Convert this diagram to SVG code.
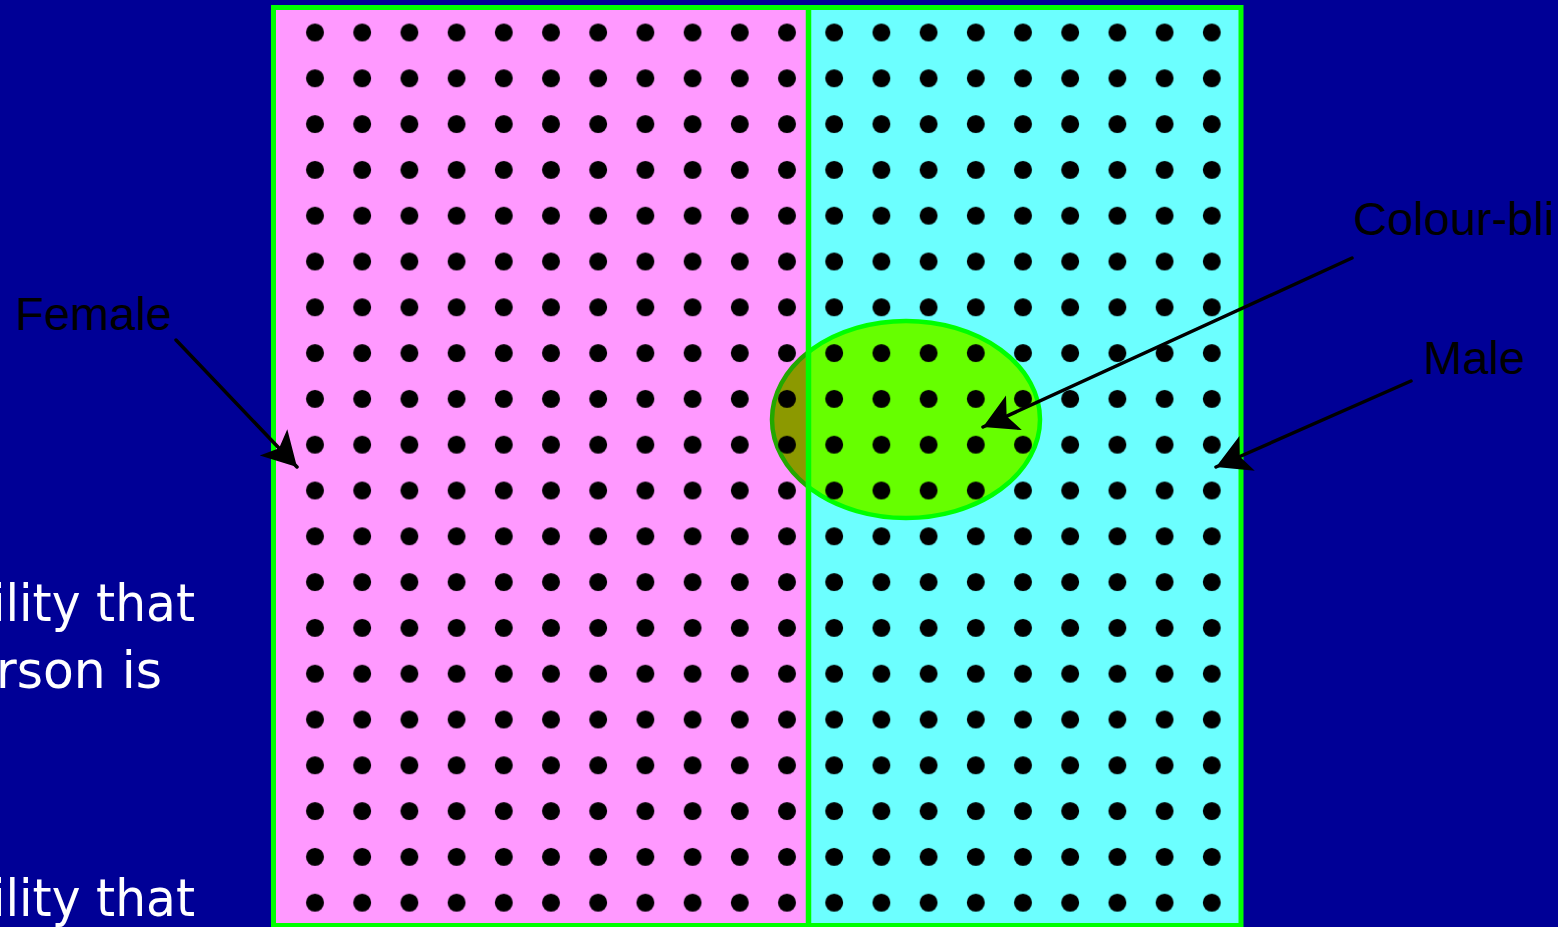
<svg xmlns="http://www.w3.org/2000/svg" width="1558" height="927" viewBox="0 0 1558 927">
<style>
.lbl{font-family:"Liberation Sans",Arial,sans-serif;font-size:47px;fill:#000}
.body{font-family:"DejaVu Sans",Verdana,sans-serif;font-size:51px;fill:#fff}
.arrow{stroke:#000;stroke-width:3.5;fill:none;stroke-linecap:round}
</style>
<defs>
<marker id="ah" markerUnits="userSpaceOnUse" markerWidth="40" markerHeight="44" refX="36" refY="20" orient="auto">
<path d="M36,20 L2,1 L10,20 L2,39 Z" fill="#000"/>
</marker>
<pattern id="dots" patternUnits="userSpaceOnUse" x="291.4" y="9.6" width="47.2" height="45.8">
<circle cx="23.6" cy="22.9" r="9" fill="#000"/>
</pattern>
<clipPath id="cl"><rect x="0" y="0" width="808" height="927"/></clipPath>
<clipPath id="cr"><rect x="808" y="0" width="750" height="927"/></clipPath>
</defs>
<rect width="1558" height="927" fill="#000096"/>
<g id="female-region"><rect x="273.5" y="7.5" width="535" height="918" fill="#FF99FF"/></g>
<g id="male-region"><rect x="808.5" y="7.5" width="432.5" height="918" fill="#6CFFFF"/></g>
<g id="colourblind-region">
<ellipse cx="906" cy="419.5" rx="134" ry="98.5" fill="#8C9900" stroke="#22A800" stroke-width="4.5" clip-path="url(#cl)"/>
<ellipse cx="906" cy="419.5" rx="134" ry="98.5" fill="#66FF00" stroke="#00FF00" stroke-width="4.5" clip-path="url(#cr)"/>
</g>
<g id="population"><rect x="291.4" y="9.6" width="944" height="916" fill="url(#dots)"/></g>
<g id="frame">
<line x1="808.5" y1="7.5" x2="808.5" y2="925.5" stroke="#00FF00" stroke-width="5.5"/>
<rect x="273.5" y="7.5" width="967.5" height="918" fill="none" stroke="#00FF00" stroke-width="5"/>
</g>
<g id="connectors">
<line class="arrow" x1="176" y1="340" x2="297" y2="467" marker-end="url(#ah)"/>
<line class="arrow" x1="1352" y1="258" x2="983" y2="427" marker-end="url(#ah)"/>
<line class="arrow" x1="1411" y1="381" x2="1216" y2="467" marker-end="url(#ah)"/>
</g>
<g id="label-female"><text class="lbl" x="15" y="330">Female</text></g>
<g id="label-colourblind"><text class="lbl" x="1353" y="235">Colour-bli</text></g>
<g id="label-male"><text class="lbl" x="1423" y="374">Male</text></g>
<g id="body-text">
<text class="body" x="-8" y="621" textLength="203" lengthAdjust="spacingAndGlyphs">ility that</text>
<text class="body" x="-4" y="688" textLength="166" lengthAdjust="spacingAndGlyphs">rson is</text>
<text class="body" x="-8" y="916" textLength="203" lengthAdjust="spacingAndGlyphs">ility that</text>
</g>
</svg>
